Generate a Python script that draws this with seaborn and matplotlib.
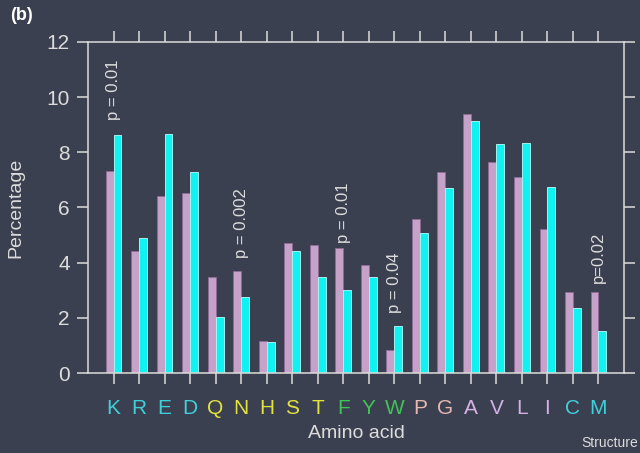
import pandas as pd
import matplotlib
matplotlib.use("Agg")
import matplotlib.pyplot as plt
import seaborn as sns

# ==============================
# data
# ==============================
amino = ["K", "R", "E", "D", "Q", "N", "H", "S", "T", "F",
         "Y", "W", "P", "G", "A", "V", "L", "I", "C", "M"]
series_a = [7.33, 4.43, 6.42, 6.52, 3.47, 3.70, 1.15, 4.72, 4.65, 4.52,
            3.90, 0.83, 5.58, 7.29, 9.38, 7.64, 7.11, 5.22, 2.93, 2.94]
series_b = [8.62, 4.88, 8.67, 7.29, 2.02, 2.76, 1.12, 4.41, 3.48, 3.01,
            3.49, 1.69, 5.09, 6.71, 9.13, 8.30, 8.35, 6.76, 2.36, 1.51]
label_colors = ["#3fd0da"] * 4 + ["#e2e23c"] * 5 + ["#3fc455"] * 3 + \
               ["#e6b8b0"] * 2 + ["#d4b0e4"] * 4 + ["#3fd0da"] * 2

# p-value labels: (category, y position, text)
p_labels = [("K", 9.17, "p = 0.01"),
            ("N", 4.17, "p = 0.002"),
            ("F", 4.71, "p = 0.01"),
            ("W", 2.18, "p = 0.04"),
            ("M", 3.26, "p=0.02")]

bg = "#3b4050"
fg = "#dcdcdc"

df = pd.DataFrame({
    "Amino acid": amino * 2,
    "Percentage": series_a + series_b,
    "group": ["A"] * len(amino) + ["B"] * len(amino),
})

sns.set_style("ticks")
plt.rcParams["font.family"] = ["Liberation Sans", "DejaVu Sans"]

fig = plt.figure(figsize=(6.4, 4.53), dpi=100, facecolor=bg)
ax = fig.add_axes([0.1375, 0.1766, 0.8375, 0.7307])
ax.set_facecolor(bg)

sns.barplot(data=df, x="Amino acid", y="Percentage", hue="group",
            hue_order=["A", "B"], palette=["#c6a2c9", "#10f2f2"],
            width=0.62, gap=0, ax=ax, legend=False, errorbar=None,
            saturation=1, linewidth=0.6)

# bar outlines
for p, patch in enumerate(ax.patches):
    if p < len(amino):
        patch.set_edgecolor("#8f6a98")
    else:
        patch.set_edgecolor("#b8ffff")

ax.set_xlim(-1, len(amino))
ax.set_ylim(0, 12)
ax.set_yticks(range(0, 13, 2))

for s in ax.spines.values():
    s.set_visible(True)
    s.set_color(fg)
    s.set_linewidth(1.1)

ax.tick_params(axis="both", direction="out", length=8, width=1.1, color=fg)
ax.tick_params(axis="y", right=True, labelright=False, labelsize=15,
               labelcolor=fg, pad=5)
ax.tick_params(axis="x", top=True, labeltop=False, labelsize=15, pad=11)

for lbl, c in zip(ax.get_xticklabels(), label_colors):
    lbl.set_color(c)

ax.set_xlabel("Amino acid", fontsize=14, color=fg, labelpad=5)
ax.set_ylabel("Percentage", fontsize=14, color=fg, labelpad=16)

for cat, yv, txt in p_labels:
    ax.text(amino.index(cat), yv, txt, rotation=90, ha="center", va="bottom",
            fontsize=12, color=fg)

fig.text(0.016, 0.965, "(b)", fontsize=13, fontweight="bold", color="white",
         va="center", ha="left")
fig.text(0.997, 0.022, "Structure", fontsize=10, color=fg,
         va="center", ha="right")

fig.savefig("out.png", dpi=100, facecolor=bg)
